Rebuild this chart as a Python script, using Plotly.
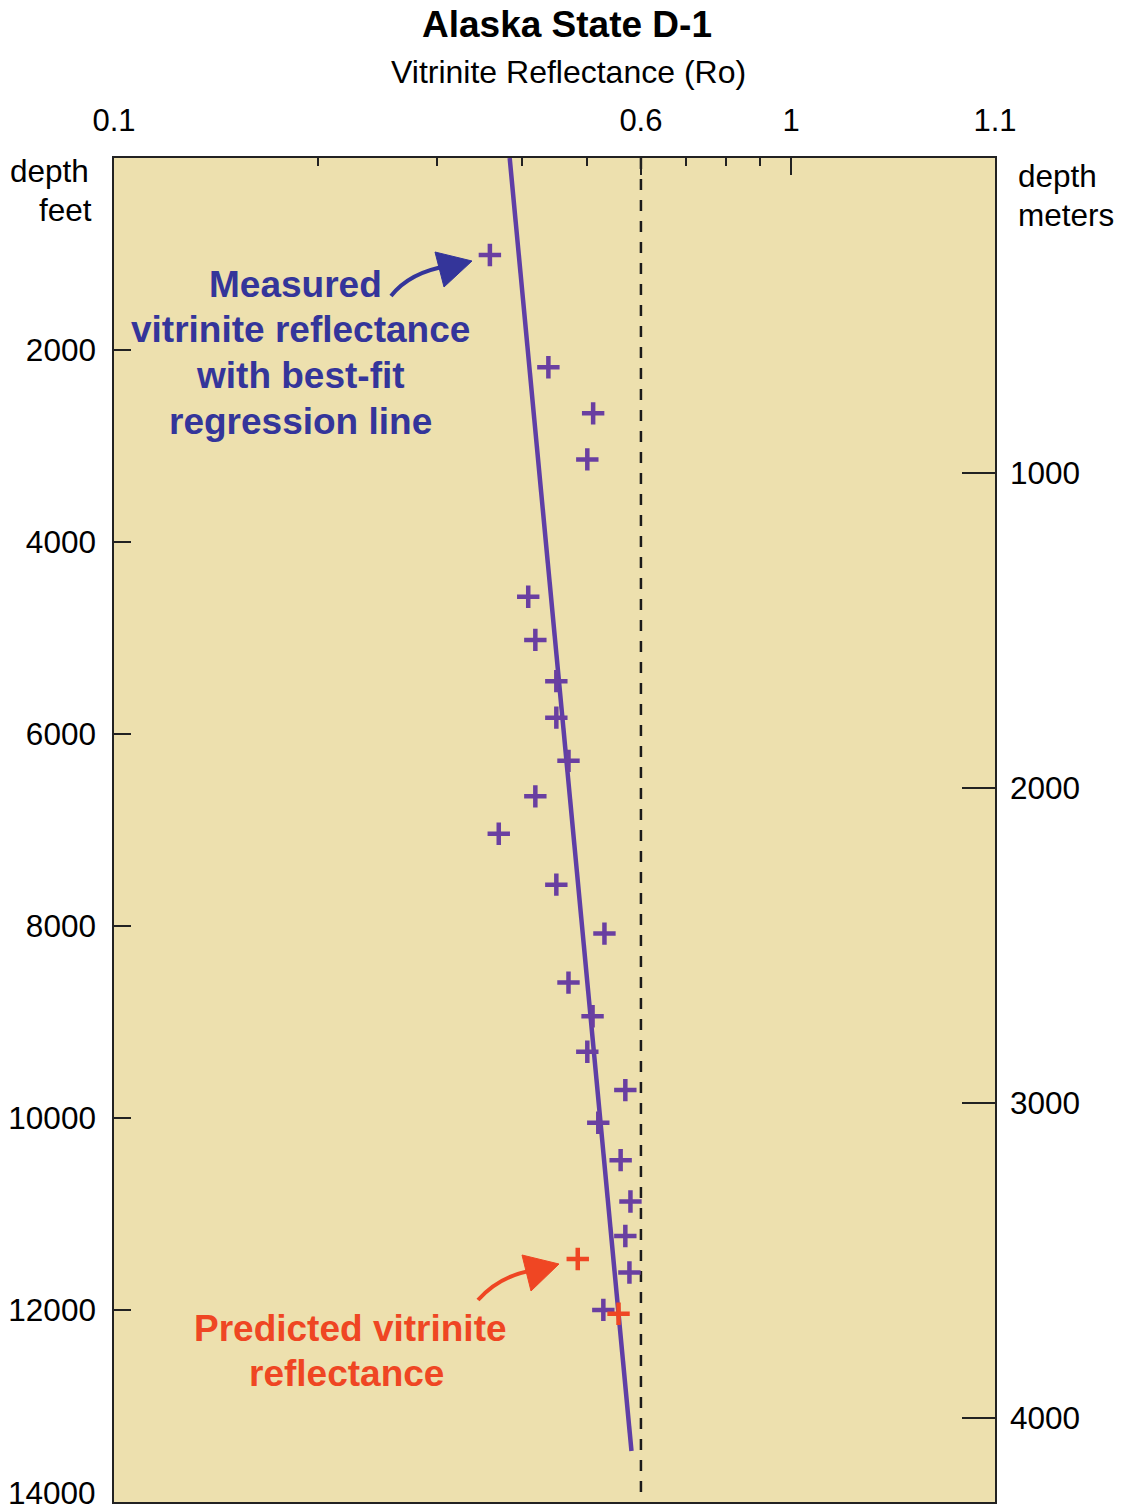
import plotly.graph_objects as go

# ---- data ----
ro_measured = [0.359, 0.438, 0.510, 0.500, 0.409, 0.419, 0.450, 0.450, 0.469, 0.419, 0.370, 0.450,
               0.530, 0.469, 0.509, 0.500, 0.569, 0.519, 0.560, 0.579, 0.569, 0.577, 0.528]
depth_measured = [1010, 2180, 2660, 3140, 4570, 5020, 5450, 5830, 6280, 6650, 7040, 7570,
                  8080, 8590, 8940, 9310, 9710, 10050, 10440, 10870, 11230, 11610, 12000]
ro_predicted = [0.484, 0.556]
depth_predicted = [11470, 12040]
fit_ro = [0.384, 0.581]
fit_depth = [0, 13470]
threshold_ro = [0.6, 0.6]
threshold_depth = [0, 14000]

x_tickvals = [0.1, 0.6, 1, 2]
x_ticktext = ["0.1", "0.6", "1", "1.1"]
x_minor = [0.2, 0.3, 0.4, 0.5, 0.7, 0.8, 0.9]
feet_ticks = [2000, 4000, 6000, 8000, 10000, 12000, 14000]
feet_bottom_label = "14000"
feet_labels = [str(v) for v in feet_ticks[:-1]] + [""]
meter_ticks = [1000, 2000, 3000, 4000]
meter_labels = [str(v) for v in meter_ticks]
FT_PER_M = 0.3048

BG = "#EDE0AE"
PURPLE = "#6A3FA1"
LINEC = "#5F3EA6"
BLUE = "#34359A"
RED = "#EF4623"
FONT = "Arial, Liberation Sans, sans-serif"

W, H = 1121, 1511
L, R, T, B = 114, 126, 158, 9
PW, PH = W - L - R, H - T - B


def px(x):
    return (x - L) / PW


def py(y):
    return (H - B - y) / PH


fig = go.Figure()

fig.add_trace(go.Scatter(x=threshold_ro, y=threshold_depth, mode="lines",
                         line=dict(color="#1a1a1a", width=2.5, dash="11px,10px"),
                         hoverinfo="skip", showlegend=False))
fig.add_trace(go.Scatter(x=fit_ro, y=fit_depth, mode="lines",
                         line=dict(color=LINEC, width=4.5), showlegend=False))
fig.add_trace(go.Scatter(x=ro_measured, y=depth_measured, mode="markers",
                         marker=dict(symbol="cross-thin", size=16,
                                     line=dict(color=PURPLE, width=4.5)),
                         showlegend=False))
fig.add_trace(go.Scatter(x=ro_predicted, y=depth_predicted, mode="markers",
                         marker=dict(symbol="cross-thin", size=16,
                                     line=dict(color=RED, width=4.5)),
                         showlegend=False))
# invisible trace to anchor the meters axis
fig.add_trace(go.Scatter(x=[0.1], y=[0], yaxis="y2", mode="markers",
                         marker=dict(opacity=0), hoverinfo="skip", showlegend=False))


def curve(p0, c, p1):
    return (f"M {px(p0[0])},{py(p0[1])} Q {px(c[0])},{py(c[1])} {px(p1[0])},{py(p1[1])}")


def tri(a, b, c):
    return (f"M {px(a[0])},{py(a[1])} L {px(b[0])},{py(b[1])} L {px(c[0])},{py(c[1])} Z")


shapes = [
    # blue curved arrow
    dict(type="path", xref="paper", yref="paper",
         path=curve((391, 296), (410, 272), (448, 266)),
         line=dict(color=BLUE, width=4)),
    dict(type="path", xref="paper", yref="paper",
         path=tri((472, 261), (435, 252), (444, 287)),
         fillcolor=BLUE, line=dict(color=BLUE, width=1)),
    # red curved arrow
    dict(type="path", xref="paper", yref="paper",
         path=curve((478, 1300), (500, 1275), (535, 1270)),
         line=dict(color=RED, width=4)),
    dict(type="path", xref="paper", yref="paper",
         path=tri((559, 1264), (522, 1255), (531, 1291)),
         fillcolor=RED, line=dict(color=RED, width=1)),
]


def label(text, x, y, size, color="black", xanchor="center", bold=False):
    t = f"<b>{text}</b>" if bold else text
    return dict(text=t, x=px(x), y=py(y), xref="paper", yref="paper",
                showarrow=False, xanchor=xanchor, yanchor="middle",
                font=dict(size=size, color=color, family=FONT))


annotations = [
    label("Alaska State D-1", 567, 24, 37, bold=True),
    label("Vitrinite Reflectance (Ro)", 568, 72, 32),
    label("depth", 91, 171, 31.5, xanchor="right"),
    label("feet", 94, 210, 31.5, xanchor="right"),
    label("depth", 1016, 176, 31.5, xanchor="left"),
    label("meters", 1016, 215, 31.5, xanchor="left"),
    label(feet_bottom_label, 98, 1493, 31.5, xanchor="right"),
]
for text, xx, yy in zip(["Measured", "vitrinite reflectance", "with best-fit", "regression line"],
                        [295, 300, 300, 300], [284, 329, 375, 421]):
    annotations.append(label(text, xx, yy, 37, color=BLUE, bold=True))
for text, xx, yy in zip(["Predicted vitrinite", "reflectance"], [350, 346], [1328, 1373]):
    annotations.append(label(text, xx, yy, 37, color=RED, bold=True))

fig.update_layout(
    width=W, height=H,
    margin=dict(l=L, r=R, t=T, b=B, pad=0, autoexpand=False),
    paper_bgcolor="white",
    plot_bgcolor=BG,
    font=dict(family=FONT, color="black"),
    showlegend=False,
    shapes=shapes,
    annotations=annotations,
    xaxis=dict(type="log", range=[-1, 0.30103], side="top", automargin=False,
               tickvals=x_tickvals, ticktext=x_ticktext,
               ticks="inside", ticklen=17, tickwidth=1.5, tickcolor="#222",
               minor=dict(tickvals=x_minor, ticks="inside", ticklen=8,
                          tickwidth=2, tickcolor="#222"),
               tickfont=dict(size=31, color="black", family=FONT),
               ticklabelstandoff=13,
               showgrid=False, zeroline=False,
               showline=True, linecolor="#222", linewidth=1.5, mirror=True),
    yaxis=dict(range=[14001, 0], tickvals=feet_ticks, ticktext=feet_labels, automargin=False,
               ticks="inside", ticklen=17, tickwidth=1.5, tickcolor="#222",
               tickfont=dict(size=31.5, color="black", family=FONT),
               ticklabelstandoff=10, ticklabeloverflow="allow",
               showgrid=False, zeroline=False,
               showline=True, linecolor="#222", linewidth=1.5, mirror=True),
    yaxis2=dict(overlaying="y", side="right", automargin=False,
                range=[14001 * FT_PER_M, 0], tickvals=meter_ticks, ticktext=meter_labels,
                ticks="inside", ticklen=33, tickwidth=2, tickcolor="#222",
                tickfont=dict(size=31.5, color="black", family=FONT),
                ticklabelstandoff=14,
                showgrid=False, zeroline=False, showline=False),
)

fig.write_html("out.html")
